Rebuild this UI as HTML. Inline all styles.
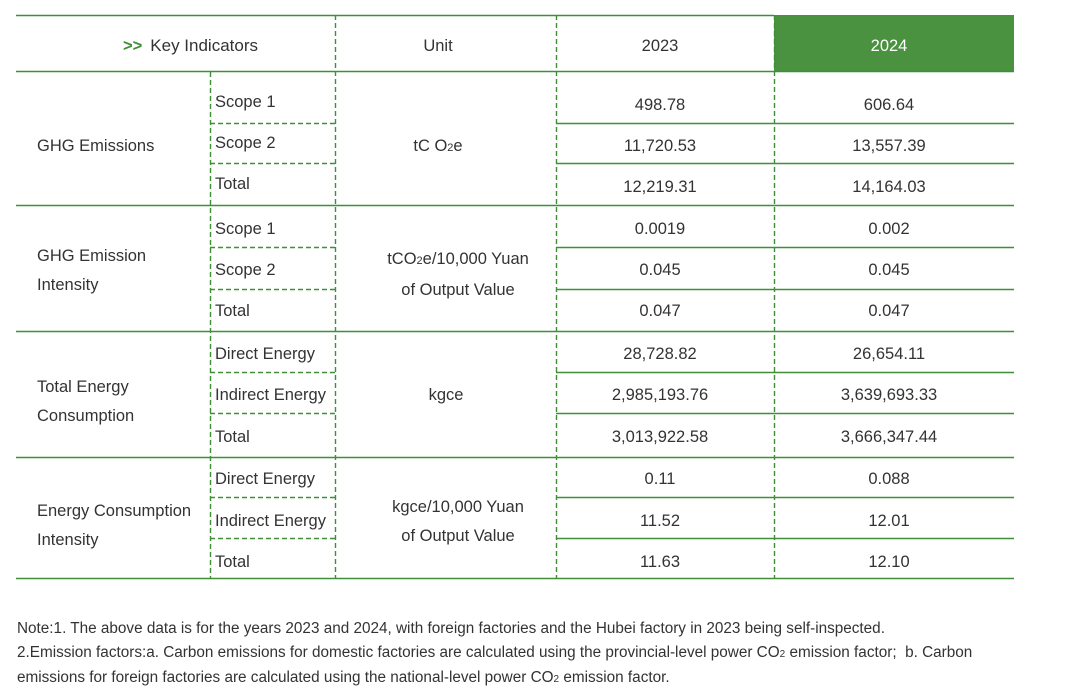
<!DOCTYPE html>
<html><head><meta charset="utf-8"><style>
body{margin:0;width:1066px;height:698px;background:#fff;position:relative;overflow:hidden;font-family:"Liberation Sans","DejaVu Sans",sans-serif;color:#333;}
.t{position:absolute;font-size:16.5px;line-height:20px;white-space:nowrap;}
.c{transform:translateX(-50%);text-align:center;}
.n{position:absolute;left:17px;font-size:15.3px;white-space:nowrap;color:#333;}
</style></head><body>
<svg width="1066" height="698" style="position:absolute;left:0;top:0">
<rect x="774" y="15" width="240" height="56" fill="#4a9140"/>
<g stroke="#3f8f36" stroke-width="1.4" fill="none">
<line x1="16" y1="15.5" x2="774" y2="15.5"/>
<line x1="16" y1="71.5" x2="1014" y2="71.5"/>
<line x1="16" y1="205.5" x2="1014" y2="205.5"/>
<line x1="16" y1="331.5" x2="1014" y2="331.5"/>
<line x1="16" y1="457.5" x2="1014" y2="457.5"/>
<line x1="16" y1="578.5" x2="1014" y2="578.5"/>
<g>
<line x1="556" y1="123.5" x2="1014" y2="123.5"/><line x1="556" y1="163.5" x2="1014" y2="163.5"/>
<line x1="556" y1="247.5" x2="1014" y2="247.5"/><line x1="556" y1="289.5" x2="1014" y2="289.5"/>
<line x1="556" y1="372.5" x2="1014" y2="372.5"/><line x1="556" y1="413.5" x2="1014" y2="413.5"/>
<line x1="556" y1="497.5" x2="1014" y2="497.5"/><line x1="556" y1="538.5" x2="1014" y2="538.5"/>
</g>
<g stroke-dasharray="5,3">
<line x1="210.5" y1="72" x2="210.5" y2="578"/>
<line x1="335.5" y1="15" x2="335.5" y2="578"/>
<line x1="556.5" y1="15" x2="556.5" y2="578"/>
<line x1="774.5" y1="15" x2="774.5" y2="578"/>
<line x1="210" y1="123.5" x2="335" y2="123.5"/><line x1="210" y1="163.5" x2="335" y2="163.5"/>
<line x1="210" y1="247.5" x2="335" y2="247.5"/><line x1="210" y1="289.5" x2="335" y2="289.5"/>
<line x1="210" y1="372.5" x2="335" y2="372.5"/><line x1="210" y1="413.5" x2="335" y2="413.5"/>
<line x1="210" y1="497.5" x2="335" y2="497.5"/><line x1="210" y1="538.5" x2="335" y2="538.5"/>
</g></g></svg>

<div class="t" style="left:123px;top:36px"><b style="color:#3f8f35;margin-right:8px">&gt;&gt;</b><span style="font-size:17px">Key Indicators</span></div>
<div class="t c" style="left:438px;top:36px">Unit</div>
<div class="t c" style="left:660px;top:36px">2023</div>
<div class="t c" style="left:889px;top:36px;color:#fff">2024</div>

<div class="t" style="left:37px;top:136px">GHG Emissions</div>
<div class="t" style="left:37px;top:242px;line-height:29px">GHG Emission<br>Intensity</div>
<div class="t" style="left:37px;top:373px;line-height:29px">Total Energy<br>Consumption</div>
<div class="t" style="left:37px;top:497px;line-height:29px">Energy Consumption<br>Intensity</div>

<div class="t" style="left:215px;top:92px">Scope 1</div>
<div class="t" style="left:215px;top:133px">Scope 2</div>
<div class="t" style="left:215px;top:174px">Total</div>
<div class="t" style="left:215px;top:219px">Scope 1</div>
<div class="t" style="left:215px;top:260px">Scope 2</div>
<div class="t" style="left:215px;top:301px">Total</div>
<div class="t" style="left:215px;top:344px">Direct Energy</div>
<div class="t" style="left:215px;top:385px">Indirect Energy</div>
<div class="t" style="left:215px;top:427px">Total</div>
<div class="t" style="left:215px;top:469px">Direct Energy</div>
<div class="t" style="left:215px;top:511px">Indirect Energy</div>
<div class="t" style="left:215px;top:552px">Total</div>

<div class="t c" style="left:438px;top:136px">tC O<span style="font-size:11px">2</span>e</div>
<div class="t c" style="left:458px;top:245px;line-height:29px">tCO<span style="font-size:11px">2</span>e/10,000 Yuan<br>of Output Value</div>
<div class="t c" style="left:446px;top:385px">kgce</div>
<div class="t c" style="left:458px;top:493px;line-height:29px">kgce/10,000 Yuan<br>of Output Value</div>

<div class="t c" style="left:660px;top:95px">498.78</div><div class="t c" style="left:889px;top:95px">606.64</div>
<div class="t c" style="left:660px;top:136px">11,720.53</div><div class="t c" style="left:889px;top:136px">13,557.39</div>
<div class="t c" style="left:660px;top:177px">12,219.31</div><div class="t c" style="left:889px;top:177px">14,164.03</div>
<div class="t c" style="left:660px;top:219px">0.0019</div><div class="t c" style="left:889px;top:219px">0.002</div>
<div class="t c" style="left:660px;top:260px">0.045</div><div class="t c" style="left:889px;top:260px">0.045</div>
<div class="t c" style="left:660px;top:301px">0.047</div><div class="t c" style="left:889px;top:301px">0.047</div>
<div class="t c" style="left:660px;top:344px">28,728.82</div><div class="t c" style="left:889px;top:344px">26,654.11</div>
<div class="t c" style="left:660px;top:385px">2,985,193.76</div><div class="t c" style="left:889px;top:385px">3,639,693.33</div>
<div class="t c" style="left:660px;top:427px">3,013,922.58</div><div class="t c" style="left:889px;top:427px">3,666,347.44</div>
<div class="t c" style="left:660px;top:469px">0.11</div><div class="t c" style="left:889px;top:469px">0.088</div>
<div class="t c" style="left:660px;top:511px">11.52</div><div class="t c" style="left:889px;top:511px">12.01</div>
<div class="t c" style="left:660px;top:552px">11.63</div><div class="t c" style="left:889px;top:552px">12.10</div>

<div class="n" style="top:620px">Note:1. The above data is for the years 2023 and 2024, with foreign factories and the Hubei factory in 2023 being self-inspected.</div>
<div class="n" style="top:644px">2.Emission factors:a. Carbon emissions for domestic factories are calculated using the provincial-level power CO<span style="font-size:10px">2</span> emission factor;&nbsp; b. Carbon</div>
<div class="n" style="top:669px">emissions for foreign factories are calculated using the national-level power CO<span style="font-size:10px">2</span> emission factor.</div>
</body></html>
